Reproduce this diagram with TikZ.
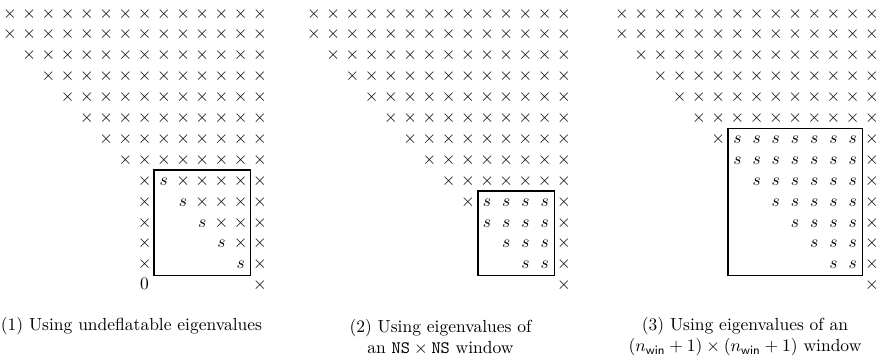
\documentclass[tikz,border=0pt]{standalone}
\begin{document}
% one row of matrix entries: #1 matrix name, #2 left x, #3 row, #4..#5 columns, #6 entry
\newcommand{\cellrow}[6]{%
  \foreach \c in {#4,...,#5}{%
    \node[cell] (#1-#3-\c) at ({#2+\c*19.23},{13.3+#3*20.9}) {#6};}}
\begin{tikzpicture}[x=0.5714pt,y=-0.5714pt,
  cell/.style={inner sep=0pt,text height=1.5ex,text depth=0.25ex,anchor=center},
  winbox/.style={draw,line width=0.9pt},
  caption/.style={align=center,inner sep=0pt}]
\useasboundingbox (0,0) rectangle (880,360);

% (1) undeflatable eigenvalues on the diagonal of the trailing block
\foreach \r in {0,...,7}{%
  \pgfmathtruncatemacro\cs{max(0,\r-1)}%
  \cellrow{a}{10}{\r}{\cs}{13}{$\times$}}
\foreach \r in {8,...,12}{%
  \cellrow{a}{10}{\r}{7}{7}{$\times$}%
  \cellrow{a}{10}{\r}{\r}{12}{\ifnum\c=\r $s$\else $\times$\fi}%
  \cellrow{a}{10}{\r}{13}{13}{$\times$}}
\cellrow{a}{10}{13}{7}{7}{$0$}
\cellrow{a}{10}{13}{13}{13}{$\times$}
\draw[winbox] (154.2,170) rectangle (250.4,275.5);

% (2) NS x NS window
\foreach \r in {0,...,8}{%
  \pgfmathtruncatemacro\cs{max(0,\r-1)}%
  \cellrow{b}{314}{\r}{\cs}{13}{$\times$}}
\cellrow{b}{314}{9}{8}{8}{$\times$}
\cellrow{b}{314}{9}{9}{12}{$s$}
\cellrow{b}{314}{9}{13}{13}{$\times$}
\foreach \r in {10,...,12}{%
  \pgfmathtruncatemacro\cs{\r-1}%
  \cellrow{b}{314}{\r}{\cs}{12}{$s$}%
  \cellrow{b}{314}{\r}{13}{13}{$\times$}}
\cellrow{b}{314}{13}{13}{13}{$\times$}
\draw[winbox] (478.2,191) rectangle (554.4,275.5);

% (3) (n_win+1) x (n_win+1) window
\foreach \r in {0,...,5}{%
  \pgfmathtruncatemacro\cs{max(0,\r-1)}%
  \cellrow{c}{622}{\r}{\cs}{13}{$\times$}}
\cellrow{c}{622}{6}{5}{5}{$\times$}
\cellrow{c}{622}{6}{6}{12}{$s$}
\cellrow{c}{622}{6}{13}{13}{$\times$}
\foreach \r in {7,...,12}{%
  \pgfmathtruncatemacro\cs{\r-1}%
  \cellrow{c}{622}{\r}{\cs}{12}{$s$}%
  \cellrow{c}{622}{\r}{13}{13}{$\times$}}
\cellrow{c}{622}{13}{13}{13}{$\times$}
\draw[winbox] (727.8,128.3) rectangle (862.4,275.5);

% captions
\node[caption] (cap1) at (131.5,326) {(1) Using undeflatable eigenvalues};
\node[caption] (cap2) at (440.5,337) {(2) Using eigenvalues of\\ an $\mathtt{NS}\times\mathtt{NS}$ window};
\node[caption] (cap3) at (745,337) {(3) Using eigenvalues of an\\ $(n_{\mathsf{win}}+1)\times(n_{\mathsf{win}}+1)$ window};
\end{tikzpicture}
\end{document}
